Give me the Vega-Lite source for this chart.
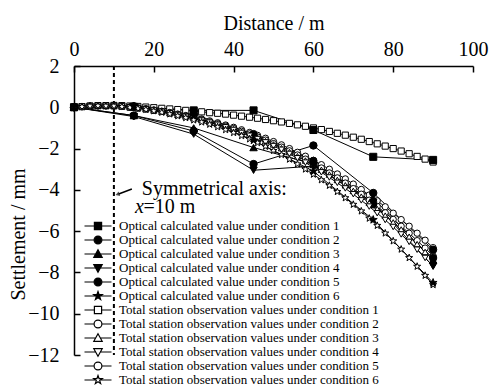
{
  "$schema": "https://vega.github.io/schema/vega-lite/v6.json",
  "width": 399,
  "height": 289,
  "autosize": "none",
  "padding": {"left": 74, "top": 66, "right": 17, "bottom": 34},
  "background": "white",
  "config": {
    "font": "Liberation Serif",
    "view": {"stroke": null},
    "axis": {"labelFont": "Liberation Serif", "titleFont": "Liberation Serif", "labelFontSize": 20, "titleFontSize": 20, "titleFontWeight": "normal", "labelColor": "black", "titleColor": "black", "domainColor": "black", "tickColor": "black", "grid": false, "tickSize": -6, "domainWidth": 1.5, "tickWidth": 1.5, "labelFlush": false, "labelOverlap": false}
  },
  "data": {"values": [
    {"x":0,"t1":0,"t2":0,"t3":0,"t4":0,"t5":0,"t6":0},
    {"x":2,"t1":0.03,"t2":0.03,"t3":0.03,"t4":0.03,"t5":0.03,"t6":0.03},
    {"x":4,"t1":0.06,"t2":0.06,"t3":0.06,"t4":0.06,"t5":0.06,"t6":0.06},
    {"x":6,"t1":0.08,"t2":0.07,"t3":0.07,"t4":0.07,"t5":0.07,"t6":0.07},
    {"x":8,"t1":0.08,"t2":0.07,"t3":0.07,"t4":0.07,"t5":0.07,"t6":0.06},
    {"x":10,"t1":0.09,"t2":0.07,"t3":0.06,"t4":0.06,"t5":0.06,"t6":0.06},
    {"x":12,"t1":0.08,"t2":0.05,"t3":0.04,"t4":0.04,"t5":0.04,"t6":0.03},
    {"x":14,"t1":0.06,"t2":0.01,"t3":0,"t4":0,"t5":0.01,"t6":-0.01},
    {"x":16,"t1":0.04,"t2":-0.03,"t3":-0.04,"t4":-0.04,"t5":-0.03,"t6":-0.06},
    {"x":18,"t1":0.01,"t2":-0.07,"t3":-0.09,"t4":-0.09,"t5":-0.08,"t6":-0.11},
    {"x":20,"t1":-0.02,"t2":-0.13,"t3":-0.15,"t4":-0.16,"t5":-0.14,"t6":-0.18},
    {"x":22,"t1":-0.05,"t2":-0.19,"t3":-0.21,"t4":-0.22,"t5":-0.2,"t6":-0.25},
    {"x":24,"t1":-0.08,"t2":-0.25,"t3":-0.28,"t4":-0.29,"t5":-0.27,"t6":-0.33},
    {"x":26,"t1":-0.11,"t2":-0.33,"t3":-0.36,"t4":-0.37,"t5":-0.35,"t6":-0.42},
    {"x":28,"t1":-0.15,"t2":-0.4,"t3":-0.44,"t4":-0.46,"t5":-0.43,"t6":-0.51},
    {"x":30,"t1":-0.19,"t2":-0.49,"t3":-0.53,"t4":-0.55,"t5":-0.52,"t6":-0.62},
    {"x":32,"t1":-0.22,"t2":-0.57,"t3":-0.62,"t4":-0.64,"t5":-0.6,"t6":-0.72},
    {"x":34,"t1":-0.26,"t2":-0.66,"t3":-0.72,"t4":-0.74,"t5":-0.7,"t6":-0.83},
    {"x":36,"t1":-0.29,"t2":-0.75,"t3":-0.82,"t4":-0.85,"t5":-0.8,"t6":-0.95},
    {"x":38,"t1":-0.33,"t2":-0.86,"t3":-0.93,"t4":-0.97,"t5":-0.91,"t6":-1.09},
    {"x":40,"t1":-0.38,"t2":-0.97,"t3":-1.06,"t4":-1.1,"t5":-1.03,"t6":-1.23},
    {"x":42,"t1":-0.43,"t2":-1.09,"t3":-1.19,"t4":-1.24,"t5":-1.16,"t6":-1.38},
    {"x":44,"t1":-0.48,"t2":-1.22,"t3":-1.33,"t4":-1.38,"t5":-1.29,"t6":-1.54},
    {"x":46,"t1":-0.53,"t2":-1.36,"t3":-1.48,"t4":-1.54,"t5":-1.44,"t6":-1.72},
    {"x":48,"t1":-0.59,"t2":-1.5,"t3":-1.64,"t4":-1.7,"t5":-1.59,"t6":-1.9},
    {"x":50,"t1":-0.65,"t2":-1.66,"t3":-1.8,"t4":-1.88,"t5":-1.76,"t6":-2.1},
    {"x":52,"t1":-0.71,"t2":-1.82,"t3":-1.98,"t4":-2.06,"t5":-1.93,"t6":-2.3},
    {"x":54,"t1":-0.78,"t2":-2,"t3":-2.17,"t4":-2.26,"t5":-2.11,"t6":-2.52},
    {"x":56,"t1":-0.85,"t2":-2.18,"t3":-2.37,"t4":-2.47,"t5":-2.31,"t6":-2.75},
    {"x":58,"t1":-0.92,"t2":-2.37,"t3":-2.58,"t4":-2.68,"t5":-2.51,"t6":-3},
    {"x":60,"t1":-1,"t2":-2.57,"t3":-2.8,"t4":-2.91,"t5":-2.72,"t6":-3.25},
    {"x":62,"t1":-1.08,"t2":-2.78,"t3":-3.03,"t4":-3.15,"t5":-2.94,"t6":-3.52},
    {"x":64,"t1":-1.17,"t2":-3,"t3":-3.26,"t4":-3.4,"t5":-3.18,"t6":-3.79},
    {"x":66,"t1":-1.26,"t2":-3.23,"t3":-3.52,"t4":-3.66,"t5":-3.42,"t6":-4.09},
    {"x":68,"t1":-1.35,"t2":-3.47,"t3":-3.78,"t4":-3.93,"t5":-3.67,"t6":-4.39},
    {"x":70,"t1":-1.45,"t2":-3.72,"t3":-4.05,"t4":-4.21,"t5":-3.94,"t6":-4.71},
    {"x":72,"t1":-1.55,"t2":-3.98,"t3":-4.33,"t4":-4.51,"t5":-4.21,"t6":-5.03},
    {"x":74,"t1":-1.66,"t2":-4.25,"t3":-4.63,"t4":-4.81,"t5":-4.5,"t6":-5.38},
    {"x":76,"t1":-1.77,"t2":-4.53,"t3":-4.93,"t4":-5.13,"t5":-4.8,"t6":-5.73},
    {"x":78,"t1":-1.88,"t2":-4.82,"t3":-5.25,"t4":-5.46,"t5":-5.11,"t6":-6.1},
    {"x":80,"t1":-2,"t2":-5.13,"t3":-5.58,"t4":-5.8,"t5":-5.43,"t6":-6.48},
    {"x":82,"t1":-2.12,"t2":-5.44,"t3":-5.92,"t4":-6.16,"t5":-5.76,"t6":-6.88},
    {"x":84,"t1":-2.25,"t2":-5.76,"t3":-6.27,"t4":-6.52,"t5":-6.1,"t6":-7.29},
    {"x":86,"t1":-2.38,"t2":-6.1,"t3":-6.63,"t4":-6.9,"t5":-6.46,"t6":-7.71},
    {"x":88,"t1":-2.51,"t2":-6.44,"t3":-7.01,"t4":-7.3,"t5":-6.82,"t6":-8.15},
    {"x":90,"t1":-2.65,"t2":-6.8,"t3":-7.4,"t4":-7.7,"t5":-7.2,"t6":-8.6},
    {"x":0,"o1":0,"o2":0,"o3":0,"o4":0,"o5":0,"o6":0},
    {"x":15,"o1":0.02,"o2":-0.4,"o3":-0.4,"o4":-0.45,"o5":0.05,"o6":0.05},
    {"x":30,"o1":-0.15,"o2":-1.15,"o3":-1.0,"o4":-1.3,"o5":-0.35,"o6":-0.4},
    {"x":45,"o1":-0.15,"o2":-2.75,"o3":-1.95,"o4":-3.05,"o5":-1.3,"o6":-1.6},
    {"x":60,"o1":-1.1,"o2":-1.85,"o3":-2.75,"o4":-2.85,"o5":-2.6,"o6":-3.1},
    {"x":75,"o1":-2.4,"o2":-4.15,"o3":-4.4,"o4":-4.6,"o5":-4.7,"o6":-5.45},
    {"x":90,"o1":-2.55,"o2":-6.9,"o3":-7.4,"o4":-7.7,"o5":-7.3,"o6":-8.5}
  ]},
  "transform": [
    {"fold": ["o1","o2","o3","o4","o5","o6","t1","t2","t3","t4","t5","t6"], "as": ["series","value"]},
    {"filter": "isValid(datum.value)"}
  ],
  "layer": [
    {
      "data": {"values": [{}]},
      "mark": {"type": "rule", "color": "black", "strokeWidth": 2, "strokeDash": [4, 3]},
      "encoding": {
        "x": {"datum": 10, "type": "quantitative", "scale": {"domain": [0, 100], "nice": false}},
        "y": {"datum": 2, "type": "quantitative", "scale": {"domain": [-12, 2], "nice": false, "zero": false}},
        "y2": {"datum": -12}
      }
    },
    {
      "mark": {"type": "line", "color": "black", "strokeWidth": 1},
      "encoding": {
        "x": {"field": "x", "type": "quantitative", "scale": {"domain": [0, 100], "nice": false},
          "axis": {"orient": "top", "values": [0, 20, 40, 60, 80, 100], "title": "Distance / m", "labelPadding": 13, "titlePadding": 6}},
        "y": {"field": "value", "type": "quantitative", "scale": {"domain": [-12, 2], "nice": false, "zero": false},
          "axis": {"values": [-12, -10, -8, -6, -4, -2, 0, 2], "title": "Settlement / mm", "labelPadding": 21, "titleX": -56, "titleY": 168, "titleAlign": "center", "titleBaseline": "middle", "titleAngle": -90}},
        "detail": {"field": "series"}
      }
    },
    {
      "transform": [{"filter": "datum.series == 'o1' || datum.series == 't1'"}],
      "mark": {"type": "point", "shape": "square", "stroke": "black", "strokeWidth": 1, "opacity": 1},
      "encoding": {
        "x": {"field": "x", "type": "quantitative"},
        "y": {"field": "value", "type": "quantitative"},
        "fill": {"condition": {"test": "datum.series[0] == 'o'", "value": "black"}, "value": "white"},
        "size": {"condition": {"test": "datum.series[0] == 'o'", "value": 50}, "value": 38}
      }
    },
    {
      "transform": [{"filter": "datum.series == 'o2' || datum.series == 't2' || datum.series == 'o5' || datum.series == 't5'"}],
      "mark": {"type": "point", "shape": "circle", "stroke": "black", "strokeWidth": 1, "opacity": 1},
      "encoding": {
        "x": {"field": "x", "type": "quantitative"},
        "y": {"field": "value", "type": "quantitative"},
        "fill": {"condition": {"test": "datum.series[0] == 'o'", "value": "black"}, "value": "white"},
        "size": {"condition": {"test": "datum.series[0] == 'o'", "value": 55}, "value": 40}
      }
    },
    {
      "transform": [{"filter": "datum.series == 'o3' || datum.series == 't3'"}],
      "mark": {"type": "point", "shape": "triangle-up", "stroke": "black", "strokeWidth": 1, "opacity": 1},
      "encoding": {
        "x": {"field": "x", "type": "quantitative"},
        "y": {"field": "value", "type": "quantitative"},
        "fill": {"condition": {"test": "datum.series[0] == 'o'", "value": "black"}, "value": "white"},
        "size": {"condition": {"test": "datum.series[0] == 'o'", "value": 55}, "value": 40}
      }
    },
    {
      "transform": [{"filter": "datum.series == 'o4' || datum.series == 't4'"}],
      "mark": {"type": "point", "shape": "triangle-down", "stroke": "black", "strokeWidth": 1, "opacity": 1},
      "encoding": {
        "x": {"field": "x", "type": "quantitative"},
        "y": {"field": "value", "type": "quantitative"},
        "fill": {"condition": {"test": "datum.series[0] == 'o'", "value": "black"}, "value": "white"},
        "size": {"condition": {"test": "datum.series[0] == 'o'", "value": 55}, "value": 40}
      }
    },
    {
      "transform": [{"filter": "datum.series == 'o6' || datum.series == 't6'"}],
      "mark": {"type": "point", "shape": "M0,-1L0.235,-0.324L0.951,-0.309L0.38,0.124L0.588,0.809L0,0.4L-0.588,0.809L-0.38,0.124L-0.951,-0.309L-0.235,-0.324Z", "stroke": "black", "strokeWidth": 1, "opacity": 1},
      "encoding": {
        "x": {"field": "x", "type": "quantitative"},
        "y": {"field": "value", "type": "quantitative"},
        "fill": {"condition": {"test": "datum.series[0] == 'o'", "value": "black"}, "value": "white"},
        "size": {"condition": {"test": "datum.series[0] == 'o'", "value": 70}, "value": 55}
      }
    },
    {
      "mark": {"type": "point", "strokeWidth": 1.2, "size": 0},
      "encoding": {
        "x": {"field": "x", "type": "quantitative"},
        "y": {"field": "value", "type": "quantitative"},
        "shape": {"field": "series", "scale": {"domain": ["o1","o2","o3","o4","o5","o6","t1","t2","t3","t4","t5","t6"], "range": [
          "M-2.25,0H-0.6M0.6,0H2.25M-0.6,-0.6H0.6V0.6H-0.6Z",
          "M-2.25,0H-0.65M0.65,0H2.25M-0.65,0A0.65,0.65,0,1,0,0.65,0A0.65,0.65,0,1,0,-0.65,0Z",
          "M-2.25,0H-0.39M0.39,0H2.25M0,-0.7L0.7,0.55H-0.7Z",
          "M-2.25,0H-0.39M0.39,0H2.25M0,0.7L0.7,-0.55H-0.7Z",
          "M-2.25,0H-0.65M0.65,0H2.25M-0.65,0A0.65,0.65,0,1,0,0.65,0A0.65,0.65,0,1,0,-0.65,0Z",
          "M-2.25,0H-0.3M0.3,0H2.25M0,-0.75L0.176,-0.243L0.713,-0.232L0.285,0.093L0.441,0.607L0,0.3L-0.441,0.607L-0.285,0.093L-0.713,-0.232L-0.176,-0.243Z",
          "M-2.25,0H-0.6M0.6,0H2.25M-0.6,-0.6H0.6V0.6H-0.6Z",
          "M-2.25,0H-0.65M0.65,0H2.25M-0.65,0A0.65,0.65,0,1,0,0.65,0A0.65,0.65,0,1,0,-0.65,0Z",
          "M-2.25,0H-0.39M0.39,0H2.25M0,-0.7L0.7,0.55H-0.7Z",
          "M-2.25,0H-0.39M0.39,0H2.25M0,0.7L0.7,-0.55H-0.7Z",
          "M-2.25,0H-0.65M0.65,0H2.25M-0.65,0A0.65,0.65,0,1,0,0.65,0A0.65,0.65,0,1,0,-0.65,0Z",
          "M-2.25,0H-0.3M0.3,0H2.25M0,-0.75L0.176,-0.243L0.713,-0.232L0.285,0.093L0.441,0.607L0,0.3L-0.441,0.607L-0.285,0.093L-0.713,-0.232L-0.176,-0.243Z"
        ]},
          "legend": {"orient": "none", "legendX": 17, "legendY": 153, "title": null, "padding": 0, "symbolSize": 144, "symbolStrokeWidth": 1.2, "symbolOpacity": 1, "labelOffset": 14, "rowPadding": 0, "labelFont": "Liberation Serif", "labelFontSize": 13, "labelColor": "black", "labelLimit": 0,
            "labelExpr": "(substring(datum.label,0,1)=='o' ? 'Optical calculated value under condition ' : 'Total station observation values under condition ') + substring(datum.label,1)"}},
        "fill": {"field": "series", "scale": {"domain": ["o1","o2","o3","o4","o5","o6","t1","t2","t3","t4","t5","t6"], "range": ["black","black","black","black","black","black","white","white","white","white","white","white"]}},
        "stroke": {"field": "series", "scale": {"domain": ["o1","o2","o3","o4","o5","o6","t1","t2","t3","t4","t5","t6"], "range": ["black","black","black","black","black","black","black","black","black","black","black","black"]}}
      }
    },
    {
      "data": {"values": [{}]},
      "mark": {"type": "rule", "color": "black", "strokeWidth": 1.5},
      "encoding": {
        "x": {"datum": 14.5, "type": "quantitative"},
        "y": {"datum": -3.96, "type": "quantitative"},
        "x2": {"datum": 11.2},
        "y2": {"datum": -4.2}
      }
    },
    {
      "data": {"values": [{}]},
      "mark": {"type": "point", "shape": "triangle-left", "filled": true, "color": "black", "size": 22, "angle": -20},
      "encoding": {
        "x": {"datum": 10.9, "type": "quantitative"},
        "y": {"datum": -4.22, "type": "quantitative"}
      }
    },
    {
      "data": {"values": [{}]},
      "mark": {"type": "text", "font": "Liberation Serif", "fontSize": 20, "align": "left", "baseline": "middle", "color": "black", "text": "Symmetrical axis:"},
      "encoding": {
        "x": {"datum": 17, "type": "quantitative"},
        "y": {"datum": -3.94, "type": "quantitative"}
      }
    },
    {
      "data": {"values": [{}]},
      "mark": {"type": "text", "font": "Liberation Serif", "fontSize": 20, "fontStyle": "italic", "align": "left", "baseline": "middle", "color": "black", "text": "x"},
      "encoding": {
        "x": {"datum": 15.3, "type": "quantitative"},
        "y": {"datum": -4.81, "type": "quantitative"}
      }
    },
    {
      "data": {"values": [{}]},
      "mark": {"type": "text", "font": "Liberation Serif", "fontSize": 20, "align": "left", "baseline": "middle", "color": "black", "text": "=10 m"},
      "encoding": {
        "x": {"datum": 17.4, "type": "quantitative"},
        "y": {"datum": -4.81, "type": "quantitative"}
      }
    }
  ]
}
